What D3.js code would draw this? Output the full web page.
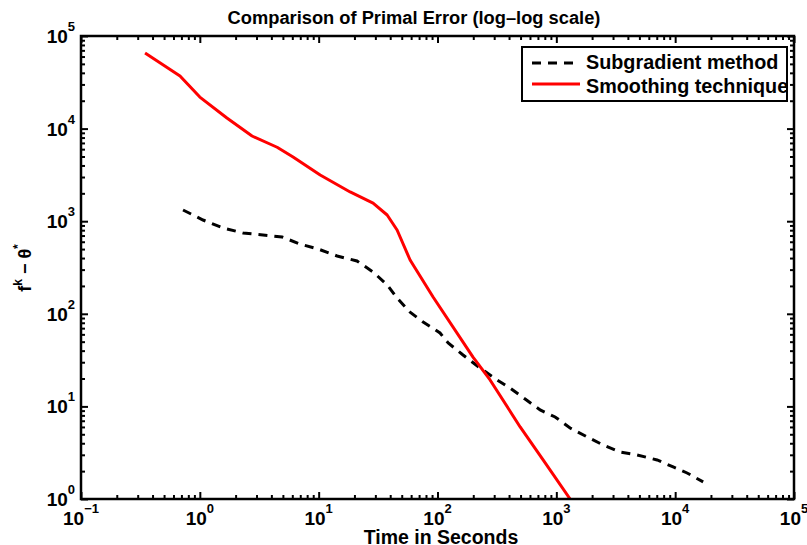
<!DOCTYPE html>
<html><head><meta charset="utf-8">
<script src="https://cdn.jsdelivr.net/npm/d3@7"></script>
<style>
body{margin:0;background:#fff}
svg{display:block}
text{font-family:Arial,"Liberation Sans",Helvetica,sans-serif;font-weight:bold;fill:#000}
</style>
</head><body>
<svg id="c" width="807" height="545"></svg>
<script>
const titleText = "Comparison of Primal Error (log\u2013log scale)";
const xLabelText = "Time in Seconds";
const seriesNames = ["Subgradient method", "Smoothing technique"];
const xTickExps = [-1, 0, 1, 2, 3, 4, 5];
const yTickExps = [0, 1, 2, 3, 4, 5];

const subX = [0.722,1.064,1.567,2.31,3.40,4.92,6.97,9.89,14.3,21.0,28.7,37.7,45.7,58.8,75.7,105,123,164,228,318,408,546,731,977,1306,1816,2477,3443,4786,7050,9620,12600,17200];
const subY = [1321,1030,845,746,710,675,567,501,421,372,283,205,148,104,81.5,62.1,48.4,35.9,26.0,19.3,15.8,12.0,9.15,7.69,5.85,4.68,3.83,3.22,2.99,2.64,2.22,1.91,1.53];

const smoothX = [0.346,0.681,1.0,1.69,2.75,4.47,6.09,10.3,18.4,28.7,37.7,45.7,58.8,91.8,199,277,496,774,1306];
const smoothY = [65500,37000,21900,13000,8320,6290,4930,3150,2070,1570,1167,804,381,152,34.1,19.3,6.0,2.64,1.0];

const L = 81, R = 794, T = 36, B = 499;
const svg = d3.select("#c");
const x = d3.scaleLog().domain([0.1, 1e5]).range([L, R]);
const y = d3.scaleLog().domain([1, 1e5]).range([B, T]);

const majorX = xTickExps.map(e => Math.pow(10, e));
const majorY = yTickExps.map(e => Math.pow(10, e));
const minorX = [], minorY = [];
for (let e = -1; e < 5; e++) for (let k = 2; k <= 9; k++) minorX.push(k * Math.pow(10, e));
for (let e = 0; e < 5; e++) for (let k = 2; k <= 9; k++) minorY.push(k * Math.pow(10, e));

svg.append("defs").append("clipPath").attr("id", "clip")
  .append("rect").attr("x", L).attr("y", T).attr("width", R - L).attr("height", B - T);

const line = d3.line().x(d => x(d[0])).y(d => y(d[1]));
const plot = svg.append("g").attr("clip-path", "url(#clip)");
plot.append("path").datum(subX.map((v, i) => [v, subY[i]]))
  .attr("d", line).attr("fill", "none").attr("stroke", "#000")
  .attr("stroke-width", 3).attr("stroke-dasharray", "9,7");
plot.append("path").datum(smoothX.map((v, i) => [v, smoothY[i]]))
  .attr("d", line).attr("fill", "none").attr("stroke", "#ff0000")
  .attr("stroke-width", 3).attr("stroke-linejoin", "round");

function styleAxis(g, w) {
  g.select(".domain").remove();
  g.selectAll(".tick line").attr("stroke", "#000").attr("stroke-width", w);
  g.selectAll(".tick text").remove();
}
function makeAxes() {
  return [
    [d3.axisBottom(x), `translate(0,${B})`],
    [d3.axisTop(x), `translate(0,${T})`],
    [d3.axisLeft(y), `translate(${L},0)`],
    [d3.axisRight(y), `translate(${R},0)`]
  ];
}
makeAxes().forEach(([ax, tr], i) => {
  svg.append("g").attr("transform", tr)
    .call(ax.tickValues(i < 2 ? minorX : minorY).tickSize(-4).tickFormat(""))
    .call(g => styleAxis(g, 2));
});
makeAxes().forEach(([ax, tr], i) => {
  svg.append("g").attr("transform", tr)
    .call(ax.tickValues(i < 2 ? majorX : majorY).tickSize(-7).tickFormat(""))
    .call(g => styleAxis(g, 2));
});

svg.append("rect").attr("x", L).attr("y", T).attr("width", R - L).attr("height", B - T)
  .attr("fill", "none").attr("stroke", "#000").attr("stroke-width", 2.5);

xTickExps.forEach(e => {
  const t = svg.append("text").attr("x", x(Math.pow(10, e))).attr("y", 525)
    .attr("text-anchor", "middle").attr("font-size", 19);
  t.append("tspan").text("10");
  t.append("tspan").attr("font-size", 13).attr("dy", -12).text(e < 0 ? "\u2212" + (-e) : String(e));
});
yTickExps.forEach(e => {
  const t = svg.append("text").attr("x", 75).attr("y", y(Math.pow(10, e)) + 7)
    .attr("text-anchor", "end").attr("font-size", 19);
  t.append("tspan").text("10");
  t.append("tspan").attr("font-size", 13).attr("dy", -12).text(String(e));
});

svg.append("text").attr("x", 414).attr("y", 24).attr("text-anchor", "middle")
  .attr("font-size", 18.3).text(titleText);
svg.append("text").attr("x", 441).attr("y", 544).attr("text-anchor", "middle")
  .attr("font-size", 19.5).text(xLabelText);
const yl = svg.append("text").attr("transform", "translate(31,268) rotate(-90)")
  .attr("text-anchor", "middle").attr("font-size", 18);
yl.append("tspan").text("f");
yl.append("tspan").attr("font-size", 12).attr("dy", -9).text("k");
yl.append("tspan").attr("dy", 9).text(" \u2212 \u03b8");
yl.append("tspan").attr("font-size", 12).attr("dy", -9).text("*");

const lg = svg.append("g");
lg.append("rect").attr("x", 522).attr("y", 47).attr("width", 265).attr("height", 54)
  .attr("fill", "#fff").attr("stroke", "#000").attr("stroke-width", 2);
lg.append("line").attr("x1", 532).attr("x2", 580).attr("y1", 63).attr("y2", 63)
  .attr("stroke", "#000").attr("stroke-width", 3).attr("stroke-dasharray", "9,7");
lg.append("line").attr("x1", 532).attr("x2", 580).attr("y1", 84).attr("y2", 84)
  .attr("stroke", "#ff0000").attr("stroke-width", 3);
lg.append("text").attr("x", 586).attr("y", 69).attr("font-size", 19.8).text(seriesNames[0]);
lg.append("text").attr("x", 586).attr("y", 93).attr("font-size", 19.8).text(seriesNames[1]);
</script>
</body></html>
